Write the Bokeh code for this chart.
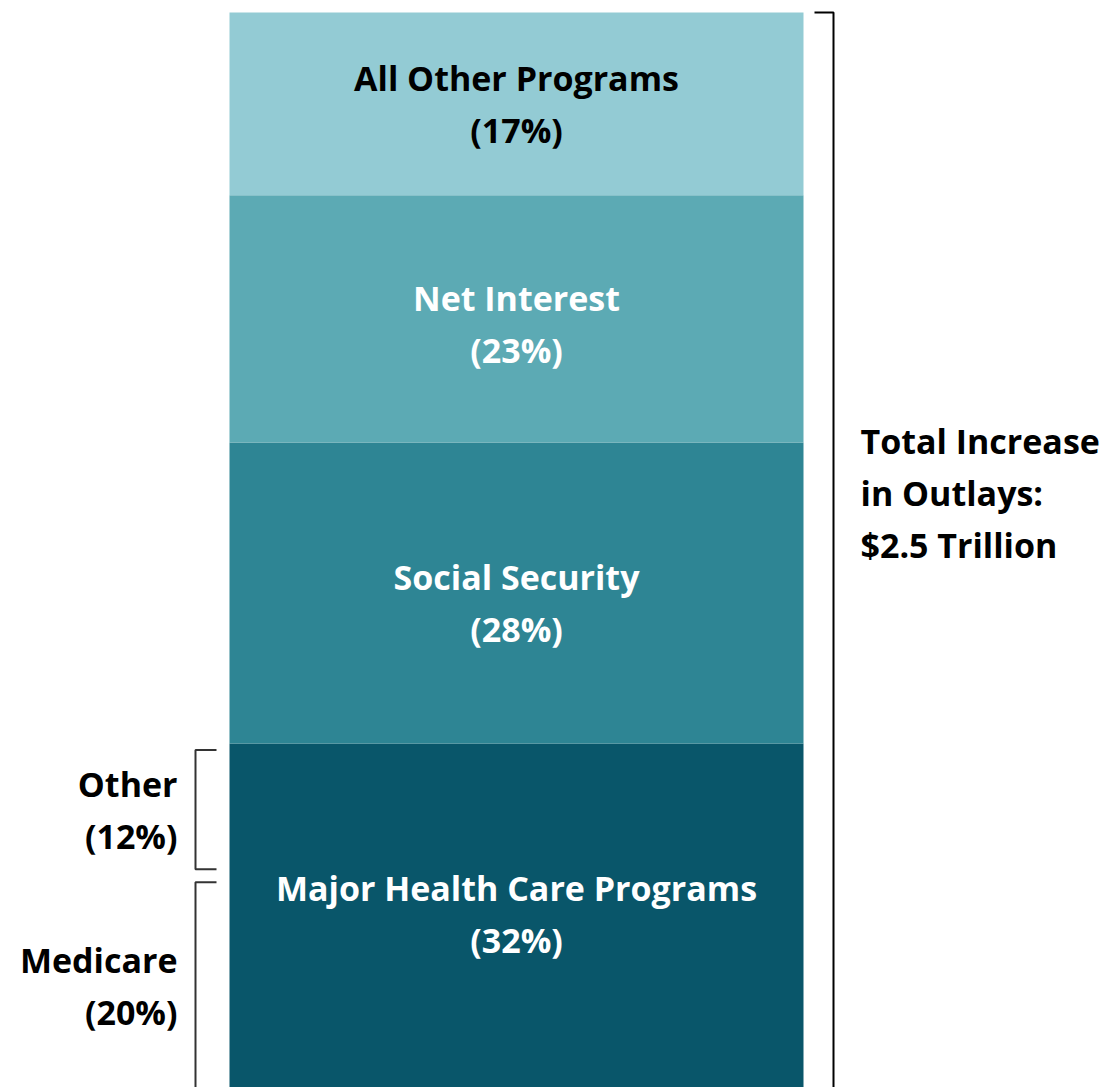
from bokeh.plotting import figure
from bokeh.models import Range1d, ColumnDataSource
from bokeh.embed import file_html
from bokeh.resources import INLINE
from bokeh.core.properties import value

# ---- data ----
categories = ["Major Health Care Programs", "Social Security", "Net Interest", "All Other Programs"]
shares = [32, 28, 23, 17]
health_parts = ["Medicare", "Other"]
health_shares = [20, 12]
total_lines = ["Total Increase", "in Outlays:", "$2.5 Trillion"]

# ---- styles ----
colors = ["#09566A", "#2E8594", "#5CAAB4", "#93CBD4"]
label_colors = ["white", "white", "white", "black"]
label_nudge = [-2, 10, 5, 0]  # px, downward
FONT = value("Open Sans")
FS = "34px"
LINE_GAP = 26  # px half distance between two label lines

W, H = 1109, 1087
# pixel scale: 0% at image y=1087, 100% at image y=12
px_per_pct = 10.75
y_top = 1087 / px_per_pct
y_bot = (1087 - H) / px_per_pct

p = figure(width=W, height=H, output_backend="svg", toolbar_location=None,
           x_range=Range1d(0, W), y_range=Range1d(y_bot, y_top), min_border=0)
p.axis.visible = False
p.grid.visible = False
p.outline_line_color = None
p.background_fill_color = "white"

bottoms, tops = [], []
acc = 0
for s in shares:
    bottoms.append(acc)
    acc += s
    tops.append(acc)

src = ColumnDataSource(dict(bottom=bottoms, top=tops, color=colors, cat=categories))
p.quad(left=229, right=803, bottom="bottom", top="top", fill_color="color",
       line_color=None, source=src)

# segment labels
for cat, s, b, t, c, n in zip(categories, shares, bottoms, tops, label_colors, label_nudge):
    mid = (b + t) / 2
    p.text(x=[516], y=[mid], text=[cat], text_align="center", text_baseline="middle",
           text_font=FONT, text_font_style="bold", text_font_size=FS, text_color=c,
           y_offset=-LINE_GAP + n)
    p.text(x=[516], y=[mid], text=[f"({s}%)"], text_align="center", text_baseline="middle",
           text_font=FONT, text_font_style="bold", text_font_size=FS, text_color=c,
           y_offset=LINE_GAP + n)

# right bracket (total); bottom tick runs past the cropped edge
p.line(x=[814, 833, 833, 814], y=[tops[-1], tops[-1], -1, -1], line_color="black", line_width=2)
for i, line in enumerate(total_lines):
    p.text(x=[860], y=[55.3], text=[line], text_align="left", text_baseline="middle",
           text_font=FONT, text_font_style="bold", text_font_size=FS, text_color="black",
           y_offset=(i - 1) * 52)

# left brackets (health care split)
hb = 0
for name, s in zip(health_parts, health_shares):
    lo = hb + 0.3 if hb > 0 else -1
    hi = hb + s - (0.9 if hb == 0 else 0.6)
    p.line(x=[216, 195, 195, 216], y=[hi, hi, lo, lo], line_color="#333333", line_width=2)
    if hb > 0:
        mid = (lo + hi) / 2
    else:
        mid = 9.4
    p.text(x=[177], y=[mid], text=[name], text_align="right", text_baseline="middle",
           text_font=FONT, text_font_style="bold", text_font_size=FS, text_color="black",
           y_offset=-LINE_GAP)
    p.text(x=[177], y=[mid], text=[f"({s}%)"], text_align="right", text_baseline="middle",
           text_font=FONT, text_font_style="bold", text_font_size=FS, text_color="black",
           y_offset=LINE_GAP)
    hb += s

open("out.html", "w").write(file_html(p, INLINE))
